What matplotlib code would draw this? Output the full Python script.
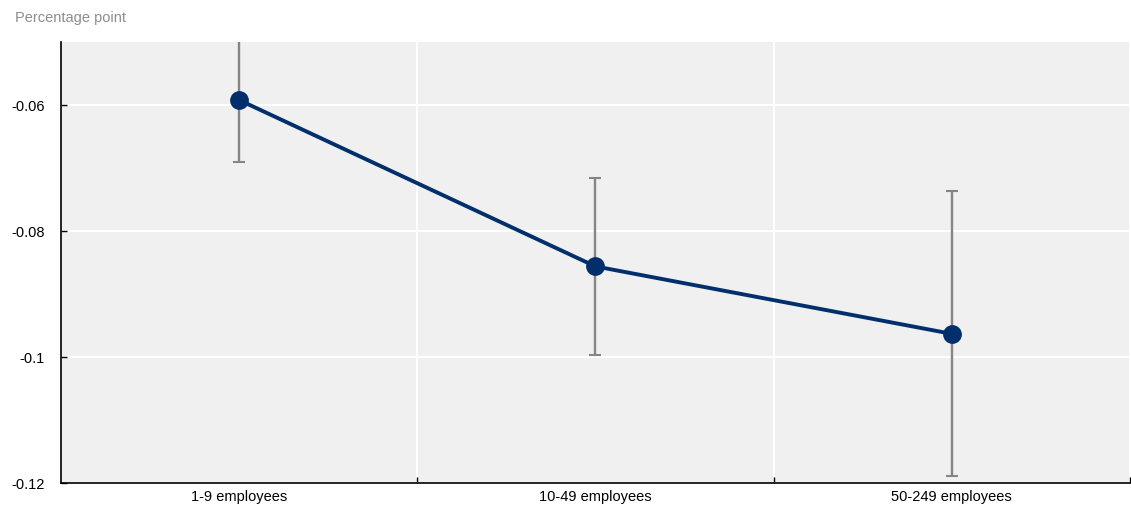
import matplotlib
matplotlib.use("Agg")
import matplotlib.pyplot as plt
import numpy as np

categories = ["1-9 employees", "10-49 employees", "50-249 employees"]
estimate = [-0.0592, -0.0856, -0.0963]
ci_low = [-0.0691, -0.0996, -0.1189]
ci_high = [-0.0493, -0.0716, -0.0737]
yticks = [-0.12, -0.10, -0.08, -0.06]
ytick_labels = ["-0.12", "-0.1", "-0.08", "-0.06"]

plt.rcParams["font.family"] = ["Liberation Sans", "DejaVu Sans"]

fig = plt.figure(figsize=(11.31, 5.07), dpi=100)
ax = fig.add_axes([0.054, 0.047, 0.945, 0.870])
ax.set_facecolor("#F0F0F0")

x = np.arange(len(categories))
est = np.array(estimate)
yerr = [est - np.array(ci_low), np.array(ci_high) - est]

ax.errorbar(x, est, yerr=yerr, fmt="none", ecolor="#858585", elinewidth=1.7,
            capsize=4.5, capthick=1.5, zorder=2)
ax.plot(x, est, color="#002F6C", linewidth=2.8, marker="o", markersize=12.5,
        markerfacecolor="#002F6C", markeredgecolor="#002F6C", zorder=3)

ax.set_xlim(-0.5, len(categories) - 0.5)
ax.set_ylim(-0.12, -0.05)
ax.set_yticks(yticks)
ax.set_yticklabels(ytick_labels)

ax.set_xticks(x)
ax.set_xticklabels(categories)
ax.set_xticks(np.arange(0.5, len(categories) - 0.5 + 0.01, 1.0), minor=True)
ax.tick_params(axis="x", which="major", length=0, labelsize=10.5, pad=5)
ax.tick_params(axis="x", which="minor", length=4, width=1, direction="in")
ax.tick_params(axis="y", length=4, width=1, direction="in", labelsize=10.5, pad=12)

ax.grid(axis="y", color="white", linewidth=1.5, zorder=0)
ax.grid(axis="x", which="minor", color="white", linewidth=1.5, zorder=0)
ax.set_axisbelow(True)

for s in ("top", "right"):
    ax.spines[s].set_visible(False)
for s in ("left", "bottom"):
    ax.spines[s].set_color("black")
    ax.spines[s].set_linewidth(1.2)

fig.text(0.013, 0.965, "Percentage point", color="#8C8C8C", fontsize=10.5,
         ha="left", va="center")

fig.savefig("out.png", dpi=100, facecolor="white")
